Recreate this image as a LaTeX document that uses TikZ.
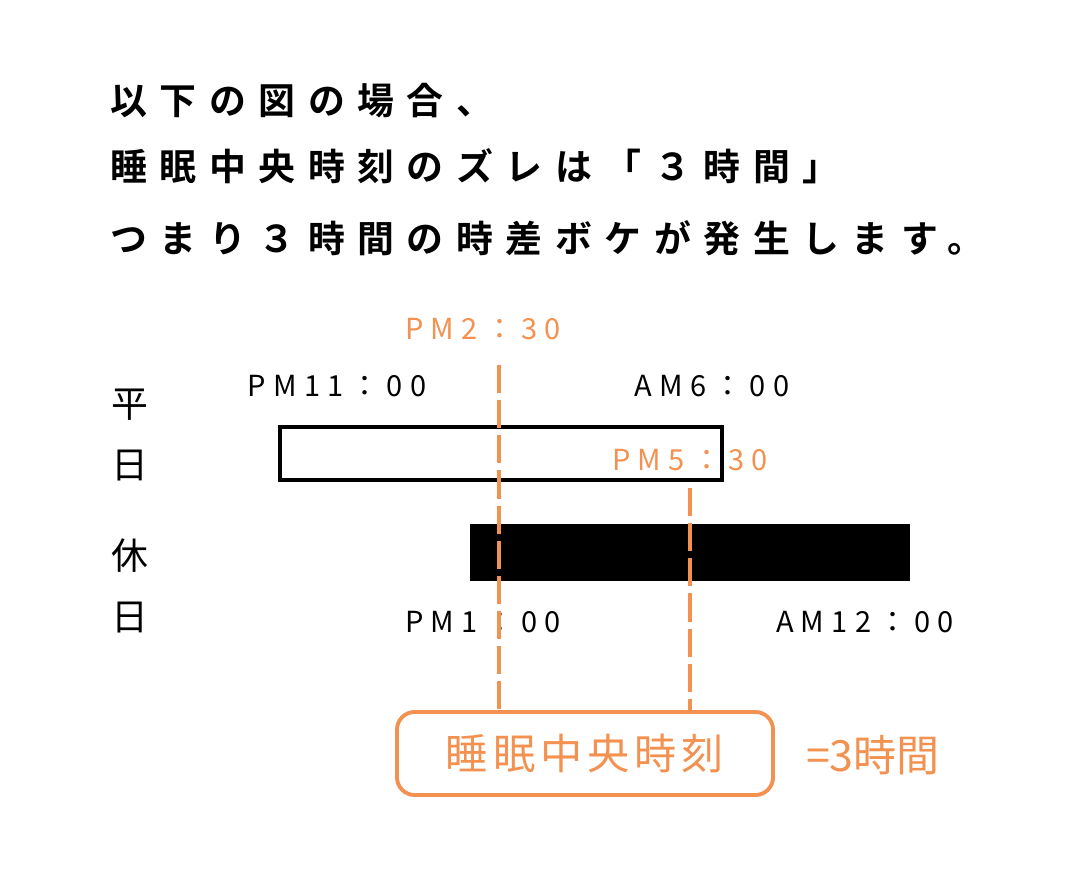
\documentclass[tikz,border=0pt]{standalone}
\usepackage{fontspec}
\newfontfamily\jp{Noto Sans CJK JP}
\newfontfamily\jps[LetterSpace=25]{Noto Sans CJK JP}
\newfontfamily\jpms[LetterSpace=12]{Noto Sans CJK JP}
\newfontfamily\jpbs[LetterSpace=34]{Noto Sans CJK JP Bold}
\definecolor{org}{HTML}{F39150}
\begin{document}
\begin{tikzpicture}[x=0.02cm,y=-0.02cm,
  title/.style={anchor=west,font=\jpbs\fontsize{21}{24}\selectfont,inner sep=0},
  day/.style={font=\jp\fontsize{21}{24}\selectfont,inner sep=0},
  tm/.style={font=\jps\fontsize{16.5}{18}\selectfont,inner sep=0},
  orline/.style={org,line width=2.2pt,dash pattern=on 16pt off 4pt}]
\useasboundingbox (0,0) rectangle (1079,884);
\node[title] (t1) at (110,101) {以下の図の場合、};
\node[title] (t2) at (110,166) {睡眠中央時刻のズレは「３時間」};
\node[title] (t3) at (110,238) {つまり３時間の時差ボケが発生します。};
\node[day] (d1) at (130,405) {平};
\node[day] (d2) at (130,466) {日};
\node[day] (d3) at (130,556) {休};
\node[day] (d4) at (130,618) {日};
\node[tm] (a) at (337,386) {PM11：00};
\node[tm] (b) at (712,386) {AM6：00};
\node[tm,org] (c) at (483,329) {PM2：30};
\node[tm,org] (d) at (690,460) {PM5：30};
\node[tm] (e) at (483,622) {PM1：00};
\node[tm] (f) at (865,622) {AM12：00};
\node[draw,line width=1.8pt,minimum width=442*0.02cm,minimum height=53*0.02cm,inner sep=0] (w) at (501,453.5) {};
\node[fill=black,minimum width=440*0.02cm,minimum height=57*0.02cm,inner sep=0] (k) at (690,552.5) {};
\node[draw=org,line width=2.2pt,rounded corners=10pt,minimum width=376*0.02cm,minimum height=83*0.02cm,inner sep=0,text=org,font=\jpms\fontsize{24}{26}\selectfont] (m) at (585,753.5) {睡眠中央時刻};
\node[org,font=\jp\fontsize{24.5}{26}\selectfont,inner sep=0] (r) at (873,755) {=3時間};
\coordinate (c1) at (499,365);
\coordinate (c2) at (690,488);
\draw[orline] (c1) -- (c1 |- m.north);
\draw[orline] (c2) -- (c2 |- m.north);
\end{tikzpicture}
\end{document}
